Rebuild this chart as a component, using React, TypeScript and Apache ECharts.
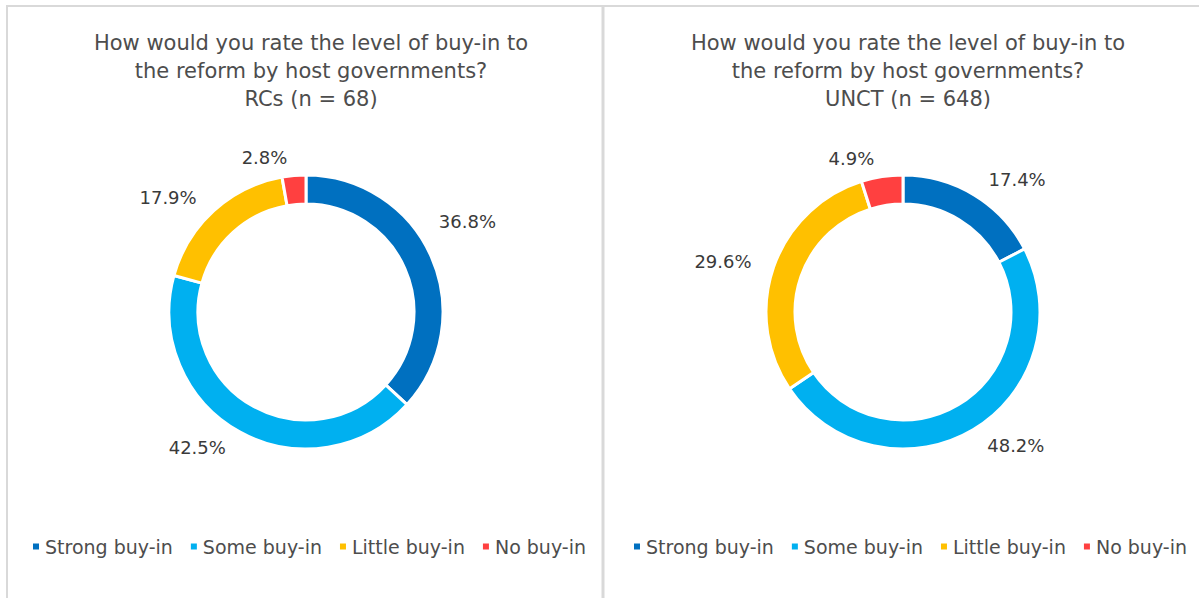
import React, { useEffect, useRef } from "react";
import * as echarts from "echarts";

const categories = ["Strong buy-in", "Some buy-in", "Little buy-in", "No buy-in"];
const rcValues = [36.8, 42.5, 17.9, 2.8];
const unctValues = [17.4, 48.2, 29.6, 4.9];
const sliceColors = ["#0070C0", "#00B0F0", "#FFC000", "#FF4040"];
const titleQuestion = ["How would you rate the level of buy-in to", "the reform by host governments?"];
const rcSubtitle = "RCs (n = 68)";
const unctSubtitle = "UNCT (n = 648)";

const FONT = "DejaVu Sans";

export default function App() {
  const ref = useRef<HTMLDivElement>(null);

  useEffect(() => {
    if (!ref.current) return;
    const chart = echarts.init(ref.current, null, { renderer: "svg" });

    const makeTitle = (sub: string, cx: number) => ({
      text: [...titleQuestion, sub].join("\n"),
      left: cx,
      top: 24,
      textAlign: "center",
      textStyle: {
        fontFamily: FONT,
        fontSize: 21,
        lineHeight: 28,
        fontWeight: "normal",
        color: "#4d4d4d",
      },
    });

    const makePie = (name: string, values: number[], cx: number, layout?: any) => ({
      type: "pie",
      name,
      center: [cx, 312],
      radius: [108, 137],
      startAngle: 90,
      clockwise: true,
      avoidLabelOverlap: false,
      itemStyle: { borderColor: "#ffffff", borderWidth: 3 },
      label: {
        show: true,
        position: "outside",
        fontFamily: FONT,
        fontSize: 18,
        color: "#3a3a3a",
        formatter: (p: any) => Number(p.value).toFixed(1) + "%",
      },
      labelLine: { show: false, length: 18, length2: 0 },
      labelLayout: layout,
      emphasis: { disabled: true },
      data: categories.map((c, i) => ({
        name: c,
        value: values[i],
        itemStyle: { color: sliceColors[i] },
      })),
    });

    const makeLegend = (left: number) => ({
      data: categories,
      left,
      top: 532,
      icon: "rect",
      itemWidth: 8,
      itemHeight: 8,
      itemGap: 16,
      selectedMode: false,
      textStyle: { fontFamily: FONT, fontSize: 19, color: "#4d4d4d" },
    });

    // Excel's "best fit" moved the first RCs label up along the ring
    const rcLabelLayout = (p: any) => (p.dataIndex === 0 ? { dx: -14, dy: -28 } : {});

    chart.setOption({
      animation: false,
      backgroundColor: "#ffffff",
      title: [makeTitle(rcSubtitle, 306), makeTitle(unctSubtitle, 903)],
      legend: [makeLegend(26), makeLegend(627)],
      series: [
        makePie("RCs", rcValues, 306, rcLabelLayout),
        makePie("UNCT", unctValues, 903),
      ],
      graphic: [
        { type: "line", shape: { x1: 6, y1: 6, x2: 1199, y2: 6 }, style: { stroke: "#d9d9d9", lineWidth: 2 } },
        { type: "line", shape: { x1: 7, y1: 6, x2: 7, y2: 598 }, style: { stroke: "#d9d9d9", lineWidth: 2 } },
        { type: "line", shape: { x1: 603, y1: 6, x2: 603, y2: 598 }, style: { stroke: "#d9d9d9", lineWidth: 3 } },
      ],
    });

    return () => chart.dispose();
  }, []);

  return (
    <div
      ref={ref}
      style={{ position: "fixed", left: 0, top: 0, width: 1199, height: 598, background: "#fff" }}
    />
  );
}
